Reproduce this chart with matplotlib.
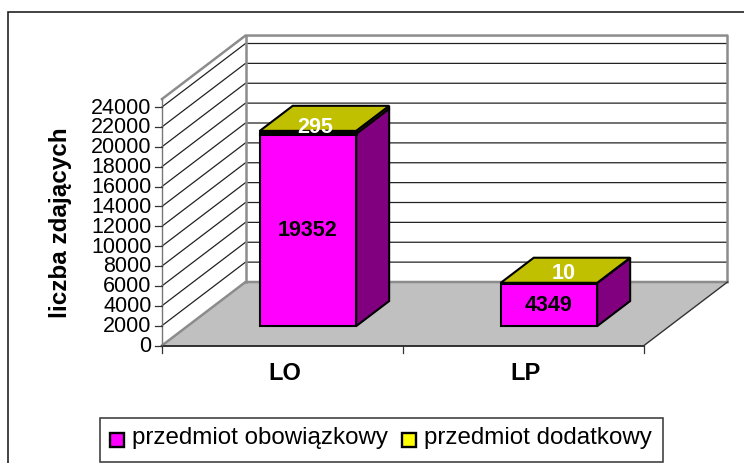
import matplotlib
matplotlib.use('Agg')
import matplotlib.pyplot as plt
from matplotlib.patches import Polygon, Rectangle

# Data
categories = ['LO', 'LP']
obowiazkowy = [19352, 4349]
dodatkowy = [295, 10]
y_ticks = list(range(0, 24001, 2000))
y_max = 24800
legend_labels = ['przedmiot obowiązkowy', 'przedmiot dodatkowy']

plt.rcParams['font.family'] = ['Liberation Sans', 'DejaVu Sans']

W, H = 744, 463
fig = plt.figure(figsize=(W / 100, H / 100), dpi=100)
ax = fig.add_axes([0, 0, 1, 1])
ax.set_xlim(0, W)
ax.set_ylim(H, 0)
ax.axis('off')

# 3D box of the chart, in pixels
x0, x1 = 162, 644
y0 = 345.5
dx, dy = 83.5, -63.5
px_per_unit = 238.5 / 24000


def project(cat_pos, value, depth=0.0):
    # cat_pos in category units, depth 0 = front, 1 = back
    x = x0 + cat_pos * (x1 - x0) / len(categories) + depth * dx
    y = y0 - value * px_per_unit + depth * dy
    return (x, y)


def poly(points, face, edge='black', lw=1.5, z=2):
    ax.add_patch(Polygon(points, closed=True, facecolor=face, edgecolor=edge,
                         linewidth=lw, joinstyle='miter', zorder=z))


# Outer frame, right and bottom sides run off the picture
ax.add_patch(Rectangle((8, 12), 760, 470, facecolor='white', edgecolor='#222222',
                       linewidth=1.2, zorder=0))

# Floor and walls
n = len(categories)
poly([project(0, 0), project(n, 0), project(n, 0, 1), project(0, 0, 1)],
     '#c0c0c0', edge='none', lw=0, z=1)
ax.plot(*zip(project(0, 0), project(n, 0)), color='#111111', lw=1.2, zorder=3)
ax.plot(*zip(project(n, 0), project(n, 0, 1)), color='#333333', lw=1.0, zorder=3)

# Gridlines on the side and back walls
for v in y_ticks[1:]:
    pts = [project(0, v), project(0, v, 1), project(n, v, 1)]
    ax.plot(*zip(*pts), color='#222222', lw=0.9, zorder=1.5)

# Wall outlines in grey
wall = [project(0, 0), project(0, 0, 1), project(n, 0, 1)]
ax.plot(*zip(*wall), color='#8c8c8c', lw=1.8, zorder=1.8)
ax.plot(*zip(project(0, 0, 1), project(0, y_max, 1)), color='#8c8c8c', lw=1.8, zorder=1.8)
top = [project(0, y_max), project(0, y_max, 1), project(n, y_max, 1), project(n, 0, 1)]
ax.plot(*zip(*top), color='#8c8c8c', lw=1.8, zorder=1.8)

# Axis lines and ticks
ax.plot(*zip(project(0, 0), project(0, y_max)), color='#777777', lw=1.0, zorder=3)
for v in y_ticks:
    xt, yt = project(0, v)
    ax.plot([xt - 7, xt], [yt, yt], color='#333333', lw=0.9, zorder=3)
    ax.text(xt - 10.5, yt + 1, str(v), ha='right', va='center', fontsize=15.5, color='black')
for i in range(n + 1):
    xt, yt = project(i, 0)
    ax.plot([xt, xt], [yt, yt + 7], color='#333333', lw=0.9, zorder=3)
for i, c in enumerate(categories):
    xt, yt = project(i + 0.5, 0)
    ax.text(xt + 2.5, 373, c, ha='center', va='center', fontsize=17, fontweight='bold')

ax.text(60, 223, 'liczba zdających', rotation=90, ha='center', va='center',
        fontsize=17.5, fontweight='bold')

# Bars
bar_w = 0.4
d0, d1 = 0.305, 0.70
label_depth = [0.07, 0.16]
for i in range(n):
    l, r = i + 0.5 - bar_w / 2, i + 0.5 + bar_w / 2
    a = obowiazkowy[i]
    b = a + dodatkowy[i]
    # side faces
    poly([project(r, 0, d0), project(r, 0, d1), project(r, a, d1), project(r, a, d0)], '#800080', z=4)
    poly([project(r, a, d0), project(r, a, d1), project(r, b, d1), project(r, b, d0)], '#808000', z=4)
    # front faces
    poly([project(l, 0, d0), project(r, 0, d0), project(r, a, d0), project(l, a, d0)], '#ff00ff', z=5)
    # top
    poly([project(l, b, d0), project(r, b, d0), project(r, b, d1), project(l, b, d1)], '#c0c000', z=5)
    poly([project(l, a, d0), project(r, a, d0), project(r, b, d0), project(l, b, d0)], '#ffff00', lw=2.2, z=5)
    # value labels
    xc, yc = project(i + 0.5, a / 2, d0)
    ax.text(xc - 0.5, yc + 1, str(a), ha='center', va='center', fontsize=15.5, fontweight='bold', zorder=6)
    xt, yt = project(i + 0.5, b, d0 + label_depth[i])
    ax.text(xt + 1, yt + 1, str(dodatkowy[i]), ha='center', va='center', fontsize=15.5,
            fontweight='bold', color='white', zorder=6)

# Legend
ax.add_patch(Rectangle((100, 418), 562.5, 44, facecolor='white', edgecolor='#333333',
                       linewidth=1.1, zorder=5))
ax.add_patch(Rectangle((110, 432.5), 14, 14, facecolor='#ff00ff', edgecolor='black', linewidth=1.7, zorder=6))
ax.text(132, 438, legend_labels[0], ha='left', va='center', fontsize=17.4, zorder=6)
ax.add_patch(Rectangle((401.5, 432.5), 14, 14, facecolor='#ffff00', edgecolor='black', linewidth=1.7, zorder=6))
ax.text(424, 438, legend_labels[1], ha='left', va='center', fontsize=17.4, zorder=6)

fig.savefig('out.png', dpi=100)
